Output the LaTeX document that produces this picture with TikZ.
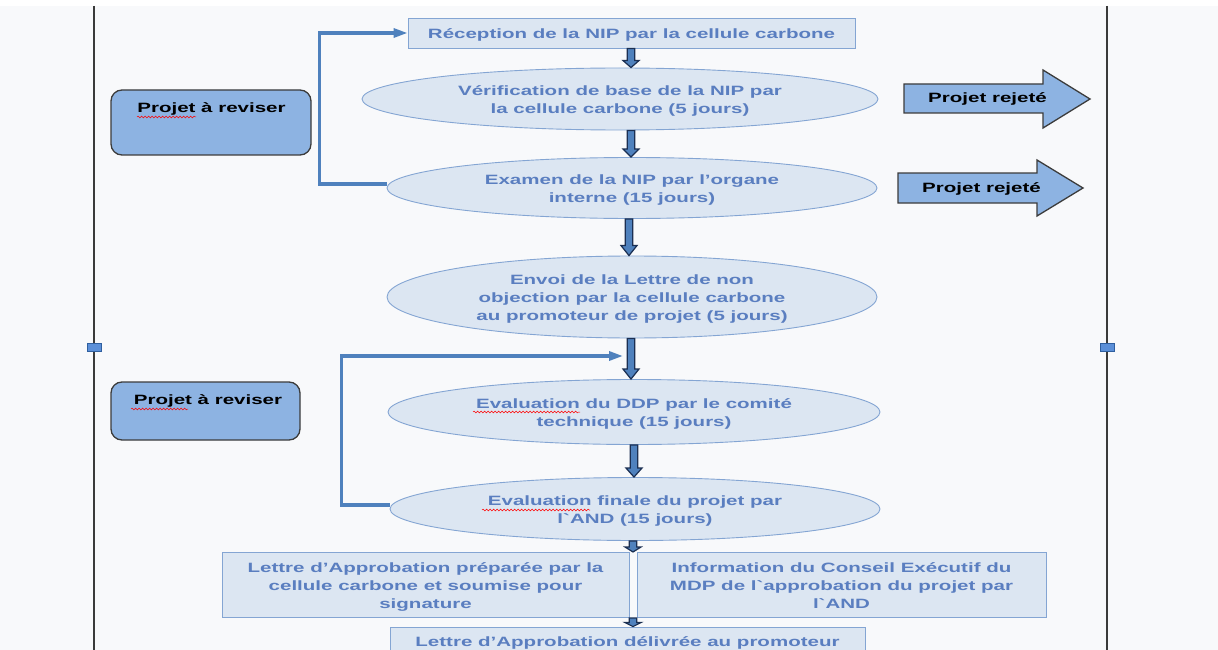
\documentclass[tikz,border=0pt]{standalone}
\usepackage{fontspec}
\newfontfamily\mf{Liberation Sans}[FakeStretch=1.52]
\usetikzlibrary{shapes.geometric,arrows.meta,calc,decorations.pathmorphing}
\definecolor{bgc}{HTML}{F8F9FB}
\definecolor{cellfill}{HTML}{DCE6F2}
\definecolor{edge}{HTML}{84A5D3}
\definecolor{txtblue}{HTML}{5A7EC0}
\definecolor{revfill}{HTML}{8DB3E2}
\definecolor{darkedge}{HTML}{3C3C3C}
\definecolor{loopblue}{HTML}{4F81BD}
\definecolor{navy}{HTML}{1B2F52}
\definecolor{railc}{HTML}{3A3A3A}
\definecolor{sqfill}{HTML}{5B8FD8}
\definecolor{sqedge}{HTML}{2F5F9F}
\newcommand\fs{\fontsize{13.5pt}{18pt}\mf\bfseries}
% text block lowered by 2pt, keeping the box size for centring
\newcommand\tl[1]{\raisebox{-2pt}[\height][\depth]{\begin{tabular}{@{}c@{}}#1\end{tabular}}}
% fat down arrow: #1 x, #2 from, #3 to, #4 head length
\newcommand\fatarr[4]{%
  \draw[fatarrow] let \p1=(#2), \p2=(#3) in
    (#1pt-3.8pt,\y1) -- (#1pt+3.8pt,\y1) -- (#1pt+3.8pt,\y2+#4pt)
    -- (#1pt+8pt,\y2+#4pt) -- (#1pt,\y2) -- (#1pt-8pt,\y2+#4pt)
    -- (#1pt-3.8pt,\y2+#4pt) -- cycle;}
\begin{document}
\begin{tikzpicture}[x=1pt,y=-1pt,
  stepell/.style={ellipse, draw=edge, fill=cellfill, line width=0.9pt,
    text=txtblue, font=\fs, inner sep=0pt},
  stepbox/.style={rectangle, draw=edge, fill=cellfill, line width=0.9pt,
    text=txtblue, font=\fs, inner sep=0pt},
  revbox/.style={rectangle, rounded corners=11pt, draw=darkedge, fill=revfill,
    line width=1.3pt},
  blacktext/.style={text=black, font=\fs, inner sep=0pt},
  rejarrow/.style={draw=darkedge, fill=revfill, line width=1.3pt},
  loopline/.style={draw=loopblue, line width=3.2pt, line join=miter,
    -{Triangle[length=14pt,width=9pt]}},
  fatarrow/.style={draw=navy, fill=loopblue, line width=1.2pt, line join=miter},
  rail/.style={draw=railc, line width=2.4pt},
  railsq/.style={draw=sqedge, fill=sqfill, line width=0.8pt},
  squiggle/.style={draw=red, line width=0.5pt,
    decorate, decoration={snake, amplitude=0.9pt, segment length=3.5pt}}
]
\useasboundingbox (0,0) rectangle (1218,650);
\fill[bgc] (0,0) rectangle (1218,650);
\fill[white] (0,0) rectangle (1218,6);

% side rails
\draw[rail] (94,6) -- (94,650);
\draw[rail] (1107,6) -- (1107,650);
\draw[railsq] (87,343) rectangle (101,351);
\draw[railsq] (1100,343) rectangle (1114,351);

% main steps
\node[stepbox, minimum width=447pt, minimum height=30pt] (rec) at (631.5,33)
  {\tl{Réception de la NIP par la cellule carbone}};
\node[stepell, minimum width=516pt, minimum height=62pt] (ver) at (620,99)
  {\tl{Vérification de base de la NIP par\\la cellule carbone (5 jours)}};
\node[stepell, minimum width=490pt, minimum height=61pt] (ex) at (632,188)
  {\tl{Examen de la NIP par l’organe\\interne (15 jours)}};
\node[stepell, minimum width=490pt, minimum height=82pt] (env) at (632,297)
  {\tl{Envoi de la Lettre de non\\objection par la cellule carbone\\au promoteur de projet (5 jours)}};
\node[stepell, minimum width=492pt, minimum height=65pt] (ddp) at (634,412)
  {\tl{Evaluation du DDP par le comité\\technique (15 jours)}};
\node[stepell, minimum width=490pt, minimum height=63pt] (fin) at (635,509)
  {\tl{Evaluation finale du projet par\\l`AND (15 jours)}};
\node[stepbox, minimum width=407pt, minimum height=65pt] (let) at (425.5,584.5)
  {\tl{Lettre d’Approbation préparée par la\\cellule carbone et soumise pour\\signature}};
\node[stepbox, minimum width=409pt, minimum height=65pt] (inf) at (841.5,584.5)
  {\tl{Information du Conseil Exécutif du\\MDP de l`approbation du projet par\\l`AND}};
\node[stepbox, minimum width=475pt, minimum height=32pt] (del) at (627.5,643)
  {Lettre d’Approbation délivrée au promoteur};

% free ends
\coordinate (gapA) at (633,552);
\coordinate (gapB) at (633,618);
\coordinate (j2) at (623,356);

% fat arrows
\fatarr{631}{rec.south}{ver.north}{7}
\fatarr{631}{ver.south}{ex.north}{8}
\fatarr{629}{ex.south}{env.north}{10}
\fatarr{631}{env.south}{ddp.north}{10}
\fatarr{634}{ddp.south}{fin.north}{9}
\fatarr{633}{fin.south}{gapA}{5}
\fatarr{633}{gapB}{del.north}{4}

% revision boxes
\node[revbox, minimum width=200pt, minimum height=65pt] (rv1) at (211,122.5) {};
\node[blacktext] (rt1) at (211.5,109) {Projet à reviser};
\node[revbox, minimum width=189pt, minimum height=58pt] (rv2) at (205.5,411) {};
\node[blacktext] (rt2) at (208,401) {Projet à reviser};

% rejection arrows
\draw[rejarrow] (904,84) -- (1043,84) -- (1043,70) -- (1090,99) -- (1043,128)
  -- (1043,113) -- (904,113) -- cycle;
\node[blacktext] (rj1) at (987.5,99) {Projet rejeté};
\draw[rejarrow] (898,173) -- (1037,173) -- (1037,160) -- (1083,188) -- (1037,216)
  -- (1037,203) -- (898,203) -- cycle;
\node[blacktext] (rj2) at (981.5,189) {Projet rejeté};

% feedback loops
\draw[loopline] ([yshift=4pt]ex.west) -- ++(-67,0) |- (rec.west);
\draw[loopline] ([yshift=4pt]fin.west) -- ++(-48,0) |- (j2);

% spell-check marks
\draw[squiggle] (137,117) -- (196,117);
\draw[squiggle] (131,409) -- (188,409);
\draw[squiggle] (473,412) -- (580,412);
\draw[squiggle] (482,510) -- (590,510);
\end{tikzpicture}
\end{document}
